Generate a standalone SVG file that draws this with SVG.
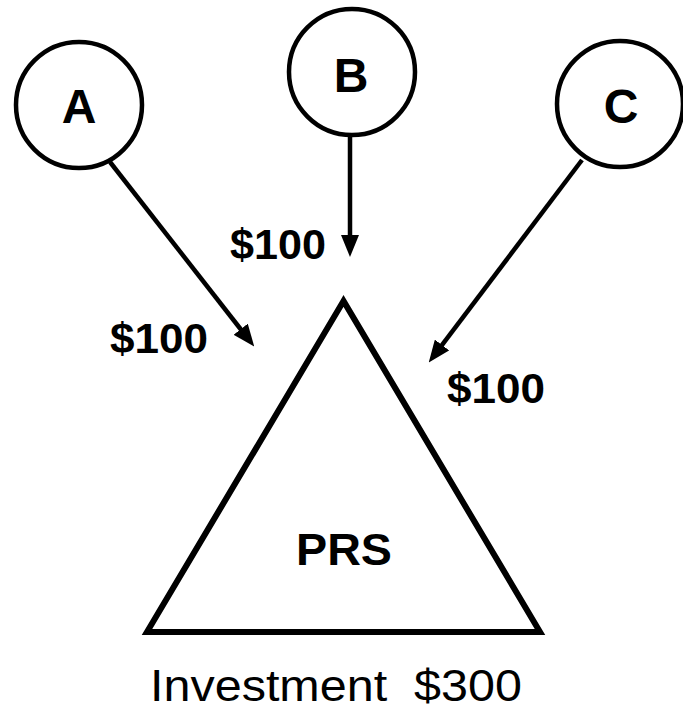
<svg xmlns="http://www.w3.org/2000/svg" width="683" height="711" viewBox="0 0 683 711">
  <style>
    .node { fill: #fff; stroke: #000; stroke-width: 4.5; }
    .tri { fill: #fff; stroke: #000; stroke-width: 6; stroke-linejoin: miter; }
    .label { font-family: "Liberation Sans", Arial, sans-serif; font-weight: bold; fill: #000; text-anchor: middle; }
    .amount { font-family: "Liberation Sans", Arial, sans-serif; font-weight: bold; font-size: 42px; fill: #000; text-anchor: middle; }
    .caption { font-family: "Liberation Sans", Arial, sans-serif; font-size: 45px; fill: #000; text-anchor: middle; white-space: pre; }
    .flow { stroke: #000; stroke-width: 4.5; fill: none; marker-end: url(#head); }
  </style>
  <defs>
    <marker id="head" markerUnits="userSpaceOnUse" markerWidth="22" markerHeight="18" refX="8" refY="9" orient="auto">
      <path d="M0,0 L22,9 L0,18 Z" fill="#000"/>
    </marker>
  </defs>

  <rect width="683" height="711" fill="#fff"/>

  <!-- investors -->
  <g id="node-a">
    <circle class="node" cx="79" cy="105" r="63"/>
    <text class="label" x="79" y="123" font-size="48">A</text>
  </g>
  <g id="node-b">
    <circle class="node" cx="352" cy="72" r="63"/>
    <text class="label" x="351" y="92" font-size="48">B</text>
  </g>
  <g id="node-c">
    <circle class="node" cx="620" cy="104" r="63"/>
    <text class="label" x="621" y="123" font-size="48">C</text>
  </g>

  <!-- partnership -->
  <g id="node-prs">
    <polygon class="tri" points="343.5,301 147,632 540,632"/>
    <text class="label" x="344" y="565" font-size="45" textLength="96" lengthAdjust="spacingAndGlyphs">PRS</text>
  </g>

  <!-- contributions -->
  <g id="connectors">
    <line class="flow" x1="110" y1="162" x2="245.6" y2="335.5"/>
    <line class="flow" x1="350" y1="136" x2="350" y2="243"/>
    <line class="flow" x1="582" y1="160" x2="437.2" y2="351.4"/>
    <text class="amount" x="159" y="353" textLength="98" lengthAdjust="spacingAndGlyphs">$100</text>
    <text class="amount" x="278" y="259" textLength="96" lengthAdjust="spacingAndGlyphs">$100</text>
    <text class="amount" x="496" y="403" textLength="98" lengthAdjust="spacingAndGlyphs">$100</text>
  </g>

  <text class="caption" x="336" y="701" textLength="372" lengthAdjust="spacingAndGlyphs">Investment  $300</text>
</svg>
